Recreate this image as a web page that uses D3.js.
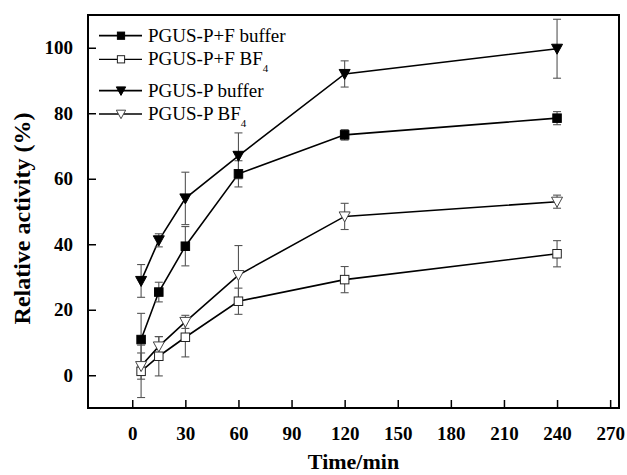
<!DOCTYPE html>
<html>
<head>
<meta charset="utf-8">
<script src="https://cdn.jsdelivr.net/npm/d3@7"></script>
<style>
  html, body { margin: 0; padding: 0; background: #fff; }
  svg { display: block; }
</style>
</head>
<body>
<svg id="chart" width="627" height="475"></svg>
<script>
// ---- data ----
const times = [5, 15, 30, 60, 120, 240];
const pfBuffer = [10.9, 25.4, 39.4, 61.5, 73.4, 78.5];
const pfBufferErr = [8, 3, 6, 4, 1.6, 2];
const pfBF4 = [1.2, 5.8, 11.6, 22.6, 29.2, 37.1];
const pfBF4Err = [8, 6, 6, 4, 4, 4];
const pBuffer = [28.8, 41.2, 54.0, 67.0, 92.0, 99.7];
const pBufferErr = [5, 2, 8, 7, 4, 9];
const pBF4 = [2.8, 8.8, 16.3, 30.6, 48.5, 53.0];
const pBF4Err = [4, 3, 2, 9, 4, 2];
const xTicks = [0, 30, 60, 90, 120, 150, 180, 210, 240, 270];
const yTicks = [0, 20, 40, 60, 80, 100];
const seriesNames = ["PGUS-P+F buffer", "PGUS-P+F BF4", "PGUS-P buffer", "PGUS-P BF4"];

const series = [
  { name: seriesNames[0], values: pfBuffer, err: pfBufferErr, shape: "square", filled: true },
  { name: seriesNames[1], values: pfBF4, err: pfBF4Err, shape: "square", filled: false },
  { name: seriesNames[2], values: pBuffer, err: pBufferErr, shape: "tri", filled: true },
  { name: seriesNames[3], values: pBF4, err: pBF4Err, shape: "tri", filled: false }
];

// ---- layout ----
const L = 88, R = 619, T = 15, B = 408;
const svg = d3.select("#chart");
const x = d3.scaleLinear().domain([-25, 275]).range([L, R]);
const y = d3.scaleLinear().domain([-10, 110]).range([B, T]);
const serif = "'Liberation Serif', 'Times New Roman', serif";

// axes
const xAxis = d3.axisBottom(x).tickValues(xTicks).tickSize(-8).tickPadding(19).tickSizeOuter(0);
const yAxis = d3.axisLeft(y).tickValues(yTicks).tickSize(-8).tickPadding(15).tickSizeOuter(0);

const gx = svg.append("g").attr("transform", `translate(0,${B})`).call(xAxis);
const gy = svg.append("g").attr("transform", `translate(${L},0)`).call(yAxis);
[gx, gy].forEach(g => {
  g.select(".domain").remove();
  g.selectAll(".tick line").attr("stroke", "#000").attr("stroke-width", 1.5);
  g.selectAll(".tick text")
    .attr("font-family", serif).attr("font-weight", "bold")
    .attr("font-size", 19).attr("fill", "#000");
});
gx.selectAll(".tick text").attr("dy", "0.71em");

// frame
svg.append("rect")
  .attr("x", L).attr("y", T).attr("width", R - L).attr("height", B - T)
  .attr("fill", "none").attr("stroke", "#000").attr("stroke-width", 2);

// axis titles
svg.append("text")
  .attr("x", (L + R) / 2).attr("y", 469)
  .attr("text-anchor", "middle")
  .attr("font-family", serif).attr("font-weight", "bold").attr("font-size", 22)
  .text("Time/min");
svg.append("text")
  .attr("transform", `translate(30,${(T + B) / 2 + 7}) rotate(-90)`)
  .attr("text-anchor", "middle")
  .attr("font-family", serif).attr("font-weight", "bold").attr("font-size", 24)
  .text("Relative activity (%)");

// marker drawing
function drawMarker(g, s, cx, cy, scale) {
  scale = scale || 1;
  if (s.shape === "square") {
    const a = 8.5 * scale;
    g.append("rect")
      .attr("x", cx - a / 2).attr("y", cy - a / 2).attr("width", a).attr("height", a)
      .attr("fill", s.filled ? "#000" : "#fff")
      .attr("stroke", s.filled ? "#000" : "#222").attr("stroke-width", 1);
  } else {
    const w = 11 * scale, h = 10 * scale;
    g.append("path")
      .attr("d", `M${cx - w / 2},${cy - h * 0.45} L${cx + w / 2},${cy - h * 0.45} L${cx},${cy + h * 0.55} Z`)
      .attr("fill", s.filled ? "#000" : "#fff")
      .attr("stroke", s.filled ? "#000" : "#444").attr("stroke-width", 1);
  }
}

const plot = svg.append("g");
const line = d3.line().x((d, i) => x(times[i])).y(d => y(d));

// lines
series.forEach(s => {
  plot.append("path").datum(s.values)
    .attr("d", line).attr("fill", "none")
    .attr("stroke", "#000").attr("stroke-width", 1.6);
});

// error bars
series.forEach(s => {
  s.values.forEach((v, i) => {
    const cx = x(times[i]);
    const y1 = y(v + s.err[i]), y2 = y(v - s.err[i]);
    const g = plot.append("g").attr("stroke", "#555").attr("stroke-width", 1.1);
    g.append("line").attr("x1", cx).attr("x2", cx).attr("y1", y1).attr("y2", y2);
    g.append("line").attr("x1", cx - 4).attr("x2", cx + 4).attr("y1", y1).attr("y2", y1);
    g.append("line").attr("x1", cx - 4).attr("x2", cx + 4).attr("y1", y2).attr("y2", y2);
  });
});

// markers
series.forEach(s => {
  s.values.forEach((v, i) => drawMarker(plot, s, x(times[i]), y(v)));
});

// legend
const legendRows = [35.7, 59.3, 90.7, 114];
series.forEach((s, i) => {
  const ly = legendRows[i];
  const g = svg.append("g");
  g.append("line").attr("x1", 99).attr("x2", 142).attr("y1", ly).attr("y2", ly)
    .attr("stroke", "#000").attr("stroke-width", s.filled ? 1.8 : 1.3);
  drawMarker(g, s, 121, ly, 0.85);
  const t = g.append("text")
    .attr("x", 148).attr("y", ly + 6)
    .attr("font-family", serif).attr("font-size", 19).attr("fill", "#000");
  if (s.name.endsWith("BF4")) {
    t.append("tspan").attr("fill", "#000").text(s.name.slice(0, -1));
    t.append("tspan").attr("fill", "#000").attr("font-size", 11).attr("dy", 7).text("4");
  } else {
    t.text(s.name);
  }
});
</script>
</body>
</html>
